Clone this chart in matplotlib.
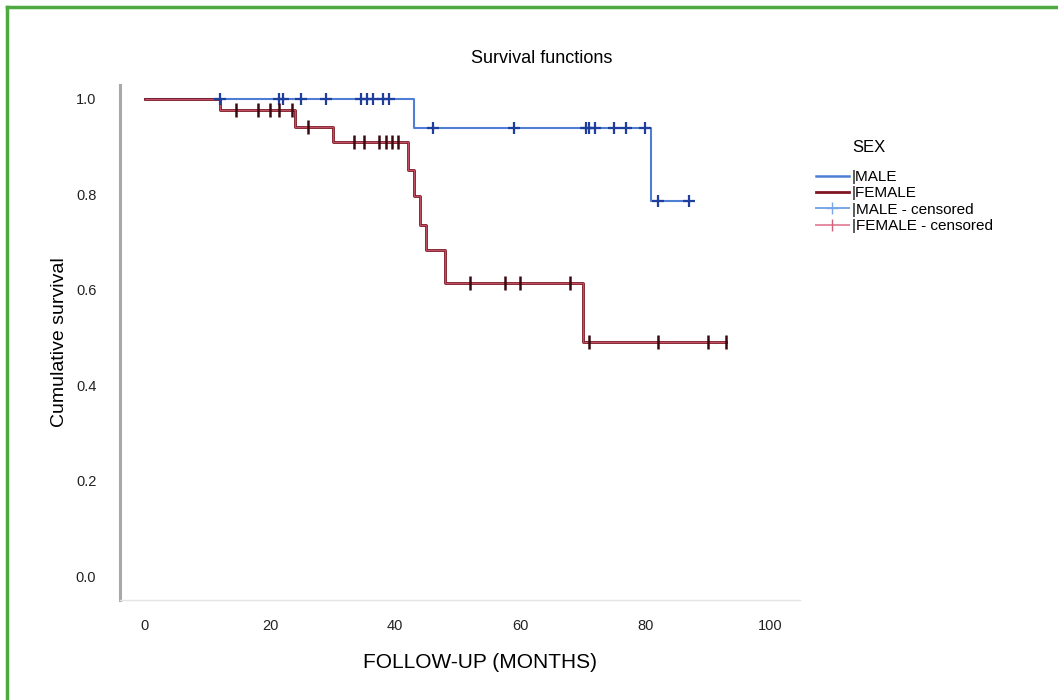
import numpy as np
import matplotlib
matplotlib.use("Agg")
import matplotlib.pyplot as plt
from matplotlib.lines import Line2D

# ----------------------------- Data ------------------------------------------

# Kaplan-Meier steps (time in months, survival after the step)
MALE_STEP_T = [0, 43, 81]
MALE_STEP_S = [1.0, 0.939, 0.785]
MALE_END = 87

FEMALE_STEP_T = [0, 12, 24, 30, 42, 43, 44, 45, 48, 70]
FEMALE_STEP_S = [1.0, 0.976, 0.94, 0.908, 0.851, 0.795, 0.736, 0.683, 0.614, 0.49]
FEMALE_END = 93

MALE_CENSORED = [12, 21.5, 22, 25, 29, 34.5, 35.5, 36.5, 38, 39,
                 46, 59, 70.5, 71, 72, 75, 77, 80, 82, 87]
FEMALE_CENSORED = [14.5, 18, 20, 21.5, 23.5, 26, 33.5, 35, 37.5, 38.5, 39.5, 40.5,
                   52, 57.5, 60, 68, 71, 82, 90, 93]

X_TICKS = [0, 20, 40, 60, 80, 100]
Y_TICKS = [0.0, 0.2, 0.4, 0.6, 0.8, 1.0]

MALE_COLOR = "#4f7fd4"
MALE_MARK = "#1f3f9f"
FEMALE_COLOR = "#7e1624"
FEMALE_MARK = "#3a0a10"
FEMALE_PINK = "#ee7890"


def surv_at(step_t, step_s, times):
    idx = np.searchsorted(np.asarray(step_t, dtype=float), np.asarray(times, dtype=float), side="right") - 1
    return np.asarray(step_s)[idx]


def step_xy(step_t, step_s, end):
    t = list(step_t) + [end]
    s = list(step_s) + [step_s[-1]]
    return t, s


plt.rcParams["font.family"] = ["Liberation Sans", "DejaVu Sans"]

fig = plt.figure(figsize=(10.58, 7.0), dpi=100)
ax = fig.add_axes([0.1134, 0.143, 0.643, 0.736])

mt, ms = step_xy(MALE_STEP_T, MALE_STEP_S, MALE_END)
ft, fs = step_xy(FEMALE_STEP_T, FEMALE_STEP_S, FEMALE_END)

ax.step(mt, ms, where="post", color=MALE_COLOR, lw=1.5, zorder=3)
ax.step(ft, fs, where="post", color=FEMALE_COLOR, lw=2.0, zorder=4)
ax.step(ft, fs, where="post", color=FEMALE_PINK, lw=0.7, alpha=0.6, zorder=4)

ax.plot(MALE_CENSORED, surv_at(MALE_STEP_T, MALE_STEP_S, MALE_CENSORED), ls="none",
        marker="+", ms=9, mew=1.6, color=MALE_MARK, zorder=5)
ax.plot(FEMALE_CENSORED, surv_at(FEMALE_STEP_T, FEMALE_STEP_S, FEMALE_CENSORED), ls="none",
        marker="|", ms=10, mew=1.8, color=FEMALE_MARK, zorder=5)

ax.set_xlim(-4, 104.8)
ax.set_ylim(-0.05, 1.029)
ax.set_xticks(X_TICKS)
ax.set_yticks(Y_TICKS)
ax.set_yticklabels([f"{v:.1f}" for v in Y_TICKS])
ax.tick_params(axis="both", length=0, labelsize=10.5, colors="#222222")
ax.tick_params(axis="y", pad=17)
ax.tick_params(axis="x", pad=14)

for side in ("top", "right"):
    ax.spines[side].set_visible(False)
ax.spines["left"].set_color("#a8a8a8")
ax.spines["left"].set_linewidth(2.2)
ax.spines["bottom"].set_color("#e4e4e4")
ax.spines["bottom"].set_linewidth(1.0)

ax.set_ylabel("Cumulative survival", fontsize=14, labelpad=6)
fig.text(0.454, 0.054, "FOLLOW-UP (MONTHS)", fontsize=15, ha="center", va="center")
fig.text(0.512, 0.916, "Survival functions", fontsize=13, ha="center", va="center")

# legend
fig.text(0.806, 0.79, "SEX", fontsize=12, ha="left", va="center")
handles = [
    Line2D([], [], color=MALE_COLOR, lw=1.8),
    Line2D([], [], color=FEMALE_COLOR, lw=2.0),
    Line2D([], [], color="#7aa6e6", lw=1.4, marker="+", ms=8, mec="#7aa6e6"),
    Line2D([], [], color="#e58aa0", lw=1.4, marker="|", ms=8, mec="#d0607a"),
]
labels = ["|MALE", "|FEMALE", "|MALE - censored", "|FEMALE - censored"]
fig.legend(handles, labels, loc="upper left",
           bbox_to_anchor=(0.771, 0.757), frameon=False, fontsize=11,
           handlelength=2.15, handletextpad=0.2, labelspacing=0.15,
           borderaxespad=0.0, borderpad=0.0)

# green frame on left and top
fig.add_artist(Line2D([0.0066, 0.0066], [0.0, 0.99], transform=fig.transFigure,
                      color="#4caa3e", lw=2.5))
fig.add_artist(Line2D([0.0066, 1.0], [0.99, 0.99], transform=fig.transFigure,
                      color="#4caa3e", lw=2.5))

fig.savefig("out.png", dpi=100)
